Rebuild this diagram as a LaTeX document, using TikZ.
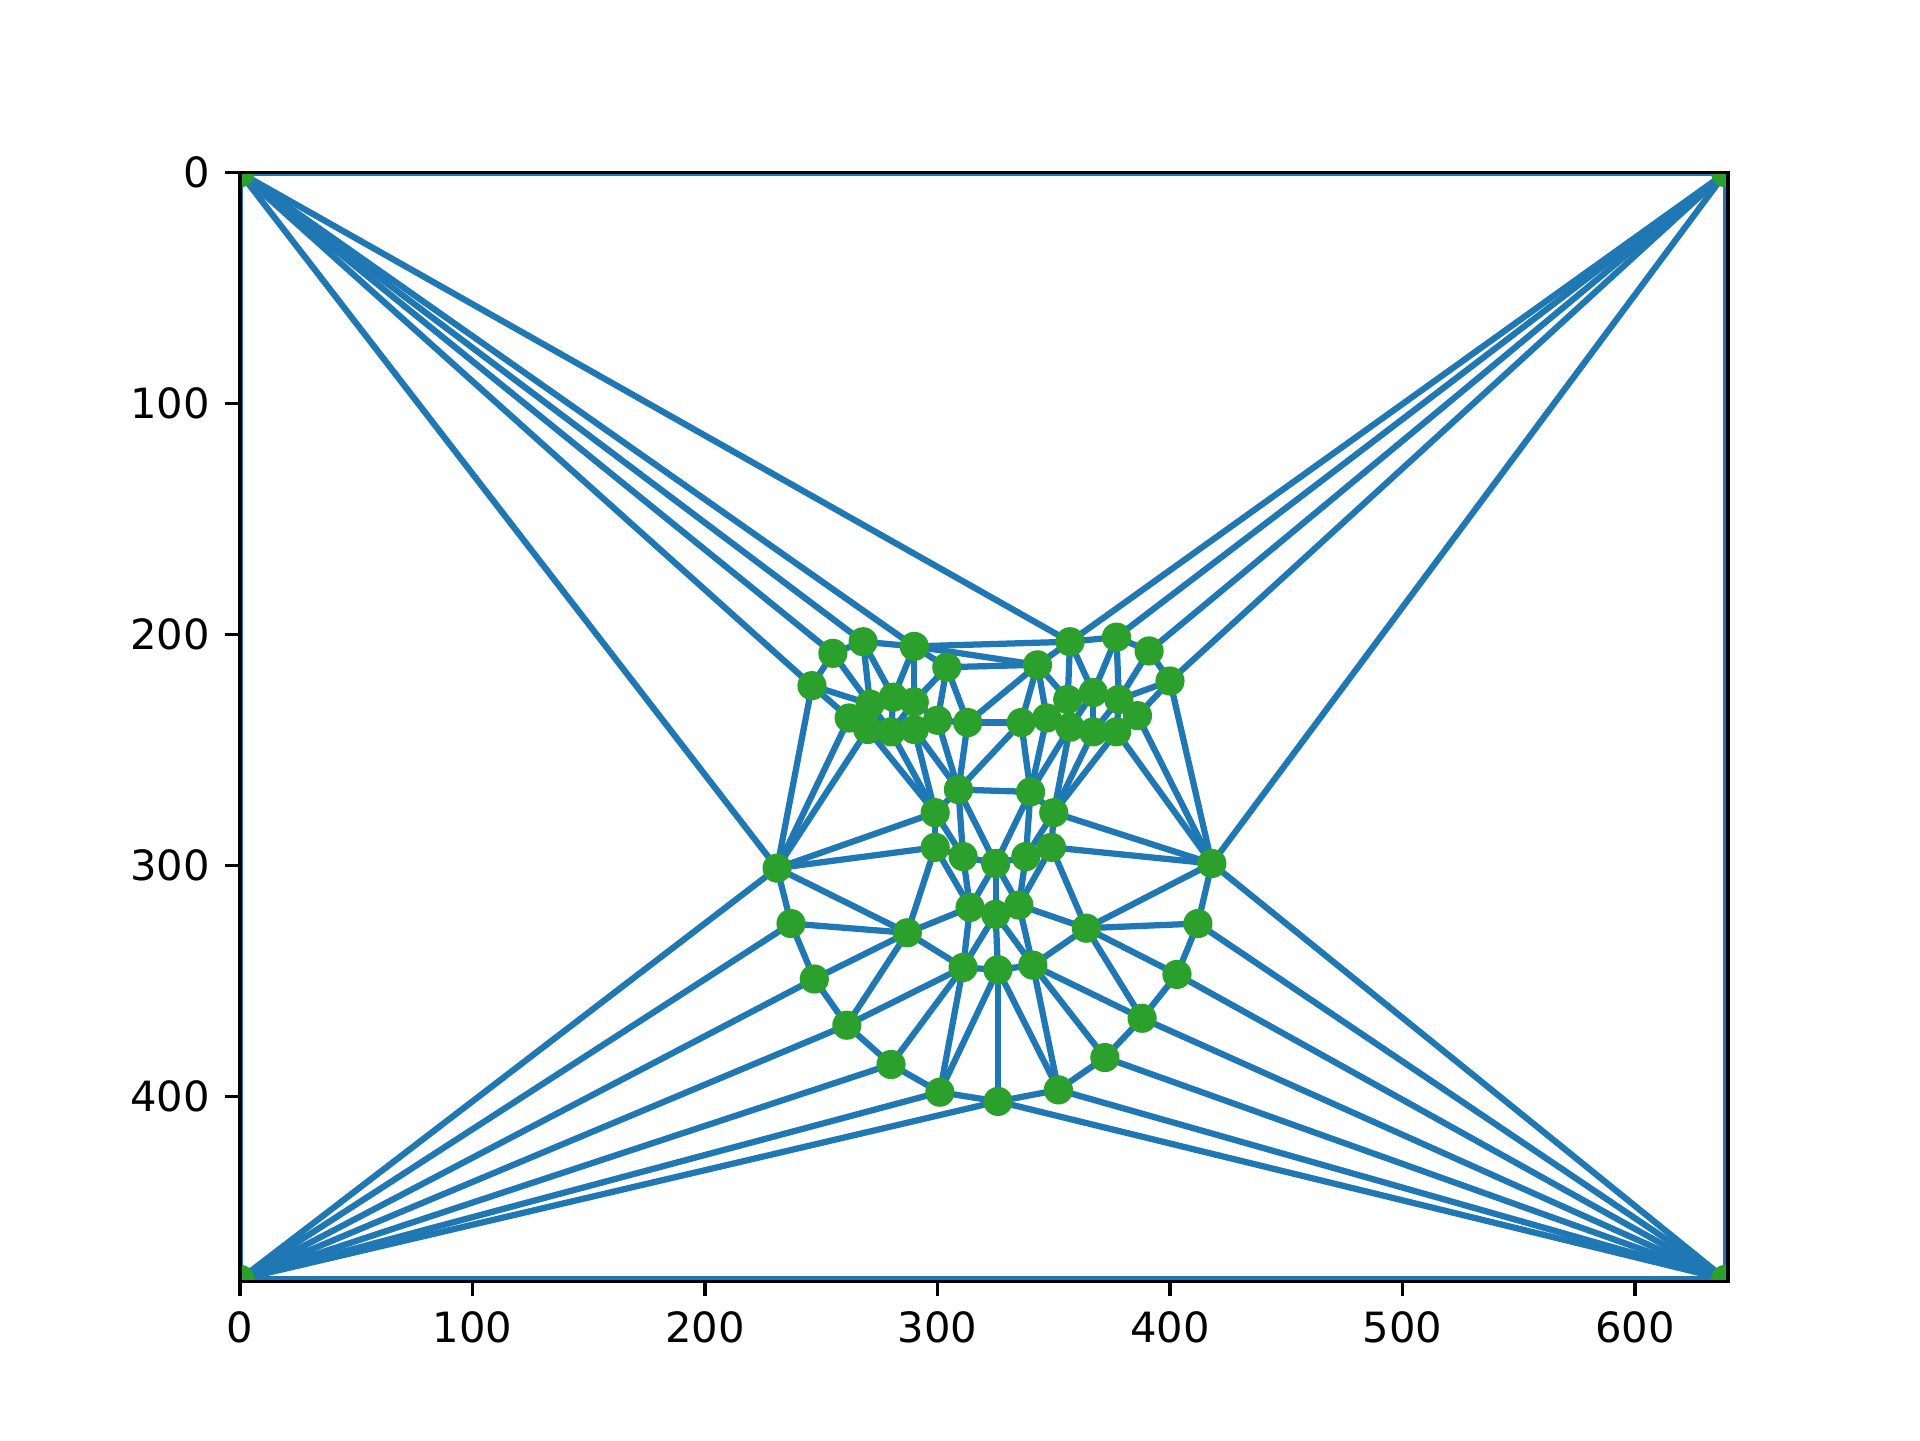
\documentclass[tikz,border=0pt]{standalone}
\usepackage{fontspec}
\setmainfont{DejaVu Sans}
\definecolor{triblue}{HTML}{1F77B4}
\definecolor{trigreen}{HTML}{2CA02C}

\begin{document}
\begin{tikzpicture}[
    x=0.558bp, y=-0.5544bp,
    edge/.style={triblue, line width=1.5bp},
    vertex/.style={fill=trigreen},
    frame/.style={black, line width=0.8bp},
    ticklabel/.style={inner sep=0pt, font=\fontsize{10bp}{12bp}\selectfont}
]
\useasboundingbox (-103.23,-74.81) rectangle (722.58,548.57);

% image corners
\coordinate (tl) at (0,0);
\coordinate (tr) at (639,0);
\coordinate (bl) at (0,479);
\coordinate (br) at (639,479);
% jaw line
\coordinate (j0) at (231,301);
\coordinate (j1) at (237,325);
\coordinate (j2) at (247,349);
\coordinate (j3) at (261,369);
\coordinate (j4) at (280,386);
\coordinate (j5) at (301,398);
\coordinate (j6) at (326,402);
\coordinate (j7) at (352,397);
\coordinate (j8) at (372,383);
\coordinate (j9) at (388,366);
\coordinate (j10) at (403,347);
\coordinate (j11) at (412,325);
\coordinate (j12) at (418,299);
% brows
\coordinate (b0) at (246,222);
\coordinate (b1) at (255,208);
\coordinate (b2) at (268,203);
\coordinate (b3) at (290,205);
\coordinate (b4) at (304,214);
\coordinate (b5) at (343,213);
\coordinate (b6) at (357,203);
\coordinate (b7) at (377,201);
\coordinate (b8) at (391,207);
\coordinate (b9) at (400,220);
% between the eyes
\coordinate (n0) at (313,238);
\coordinate (n1) at (336,238);
% left eye
\coordinate (l0) at (262,236);
\coordinate (l1) at (271,230);
\coordinate (l2) at (281,227);
\coordinate (l3) at (290,229);
\coordinate (l4) at (300,237);
\coordinate (l5) at (290,241);
\coordinate (l6) at (280,242);
\coordinate (l7) at (270,241);
% right eye
\coordinate (r0) at (347,236);
\coordinate (r1) at (356,228);
\coordinate (r2) at (367,225);
\coordinate (r3) at (378,228);
\coordinate (r4) at (386,235);
\coordinate (r5) at (377,242);
\coordinate (r6) at (367,242);
\coordinate (r7) at (357,240);
% nose
\coordinate (m0) at (309,267);
\coordinate (m1) at (340,268);
\coordinate (m2) at (299,277);
\coordinate (m3) at (350,277);
\coordinate (m4) at (299,292);
\coordinate (m5) at (311,296);
\coordinate (m6) at (325,299);
\coordinate (m7) at (338,296);
\coordinate (m8) at (349,292);
% mouth
\coordinate (p0) at (287,329);
\coordinate (p1) at (314,318);
\coordinate (p2) at (325,321);
\coordinate (p3) at (335,317);
\coordinate (p4) at (364,327);
\coordinate (p5) at (311,344);
\coordinate (p6) at (326,345);
\coordinate (p7) at (341,343);

\begin{scope}
\clip (0,0) rectangle (640,480);
% triangle edges
\foreach \a/\b in {tl/tr, tl/b6, tl/b3, tl/b2, tl/b1, tl/b0, tl/j0, tl/bl,
    tr/b6, tr/b7, tr/b8, tr/b9, tr/j12, tr/br,
    bl/j0, bl/j1, bl/j2, bl/j3, bl/j4, bl/j5, bl/j6, bl/br,
    br/j12, br/j11, br/j10, br/j9, br/j8, br/j7, br/j6,
    j0/j1, j1/j2, j2/j3, j3/j4, j4/j5, j5/j6, j6/j7, j7/j8, j8/j9, j9/j10,
    j10/j11, j11/j12, j12/b9, b9/b8, b8/b7, b7/b6, b6/b3, b3/b2, b2/b1,
    b1/b0, b0/j0,
    b0/l0, b0/l1, b1/l1, b2/l1, b2/l2, b3/l2, b3/l3, b3/b4, b3/b5, b4/l3,
    b4/l4, b4/n0, b4/b5, b5/n0, b5/n1, b5/r0, b5/r1, b5/b6, b6/r1, b6/r2,
    b7/r2, b7/r3, b8/r3, b9/r3, b9/r4,
    j12/r4, j12/r5, j12/m3, j12/m8, j12/p4, j11/p4, j10/p4, j9/p4, j9/p7,
    j8/p7, j7/p7, j7/p6, j6/p6, j5/p6, j5/p5, j4/p5, j3/p5, j3/p0, j2/p0,
    j1/p0, j0/p0, j0/m4, j0/m2, j0/l7, j0/l0,
    l0/l1, l0/l7, l1/l7, l1/l6, l1/l2, l7/l6, l7/m2, l6/m2, l6/l5, l6/l2,
    l6/l3, l2/l3, l3/l5, l3/l4, l5/m2, l5/m0, l5/l4, l4/m0, l4/n0,
    m0/n0, m0/m2, m0/m5, m0/m6, m0/m1, m0/n1, n0/n1, n1/m1, n1/r0, r0/m1,
    r0/r7, r0/r1, r1/r7, r1/r2, r2/r7, r2/r6, r2/r3, r3/r6, r3/r5, r3/r4,
    r4/r5, r5/r6, r6/r7, r7/m1, r7/m3, r6/m3, r5/m3,
    m1/m3, m1/m7, m1/m6, m3/m7, m3/m8, m7/m8, m6/m7, m7/p3, m8/p3, m8/p4,
    p3/p4, p3/p7, p4/p7, p3/m6, p2/p3, p2/p7, p2/m6, p2/p6, p6/p7, p2/p5,
    p5/p6, p1/p2, p1/p5, p1/m6, p1/m5, p1/m4, p1/p0, p0/p5, p0/m4,
    m4/m5, m4/m2, m2/m5, m5/m6}
    \draw[edge] (\a) -- (\b);
% points
\foreach \p in {tl,tr,bl,br,j0,j1,j2,j3,j4,j5,j6,j7,j8,j9,j10,j11,j12,
    b0,b1,b2,b3,b4,b5,b6,b7,b8,b9,n0,n1,l0,l1,l2,l3,l4,l5,l6,l7,
    r0,r1,r2,r3,r4,r5,r6,r7,m0,m1,m2,m3,m4,m5,m6,m7,m8,p0,p1,p2,p3,p4,p5,p6,p7}
    \fill[vertex] (\p) circle[radius=3.5bp];
\end{scope}

% axes
\draw[frame] (0,0) rectangle (640,480);
\foreach \x in {0,100,...,600} {
    \draw[frame] (\x,480) -- ++(0bp,-3.5bp);
    \node[ticklabel, anchor=north, yshift=-7bp] (xt\x) at (\x,480) {\x};
}
\foreach \y in {0,100,...,400} {
    \draw[frame] (0,\y) -- ++(-3.5bp,0bp);
    \node[ticklabel, anchor=east, xshift=-7bp] (yt\y) at (0,\y) {\y};
}
\end{tikzpicture}
\end{document}
